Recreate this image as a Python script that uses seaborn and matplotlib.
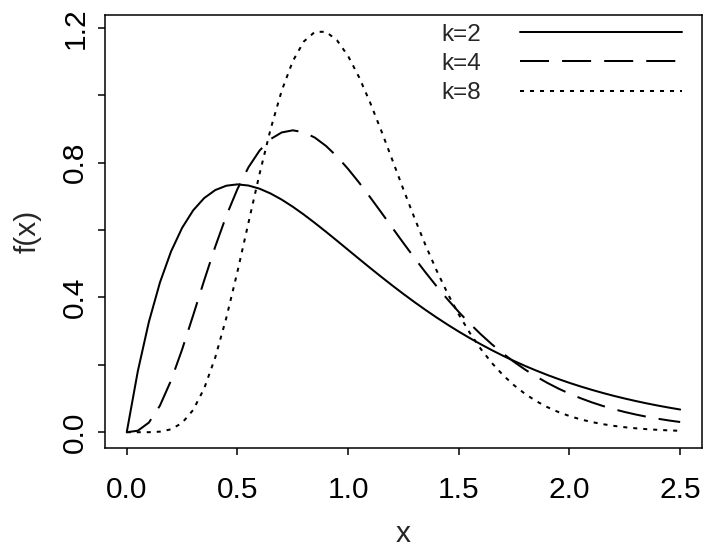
import matplotlib
matplotlib.use("Agg")
import matplotlib.pyplot as plt
import seaborn as sns

# grid of x values and the three density curves
x = [0.00, 0.05, 0.10, 0.15, 0.20, 0.25, 0.30, 0.35, 0.40, 0.45,
     0.50, 0.55, 0.60, 0.65, 0.70, 0.75, 0.80, 0.85, 0.90, 0.95,
     1.00, 1.05, 1.10, 1.15, 1.20, 1.25, 1.30, 1.35, 1.40, 1.45,
     1.50, 1.55, 1.60, 1.65, 1.70, 1.75, 1.80, 1.85, 1.90, 1.95,
     2.00, 2.05, 2.10, 2.15, 2.20, 2.25, 2.30, 2.35, 2.40, 2.45, 2.50]

f_k2 = [0.0, 0.1810, 0.3275, 0.4445, 0.5363, 0.6065, 0.6586, 0.6952, 0.7189, 0.7318,
        0.7358, 0.7323, 0.7229, 0.7086, 0.6905, 0.6694, 0.6461, 0.6211, 0.5951, 0.5684,
        0.5413, 0.5143, 0.4875, 0.4612, 0.4354, 0.4104, 0.3862, 0.3629, 0.3405, 0.3191,
        0.2987, 0.2793, 0.2609, 0.2434, 0.2269, 0.2114, 0.1967, 0.1830, 0.1700, 0.1579,
        0.1465, 0.1359, 0.1260, 0.1167, 0.1080, 0.1000, 0.0925, 0.0855, 0.0790, 0.0730, 0.0674]

f_k4 = [0.0, 0.0044, 0.0286, 0.0790, 0.1534, 0.2453, 0.3470, 0.4511, 0.5513, 0.6427,
        0.7218, 0.7866, 0.8361, 0.8703, 0.8899, 0.8962, 0.8905, 0.8745, 0.8499, 0.8184,
        0.7815, 0.7407, 0.6972, 0.6523, 0.6068, 0.5615, 0.5172, 0.4742, 0.4330, 0.3939,
        0.3570, 0.3224, 0.2904, 0.2607, 0.2335, 0.2085, 0.1858, 0.1651, 0.1465, 0.1296,
        0.1145, 0.1010, 0.0889, 0.0781, 0.0685, 0.0600, 0.0525, 0.0458, 0.0400, 0.0348, 0.0303]

f_k8 = [0.0, 0.0000, 0.0001, 0.0017, 0.0086, 0.0275, 0.0660, 0.1302, 0.2223, 0.3399,
        0.4763, 0.6222, 0.7669, 0.9002, 1.0138, 1.1014, 1.1600, 1.1886, 1.1887, 1.1634,
        1.1167, 1.0533, 0.9778, 0.8947, 0.8079, 0.7206, 0.6357, 0.5549, 0.4798, 0.4112,
        0.3495, 0.2947, 0.2467, 0.2051, 0.1694, 0.1391, 0.1136, 0.0922, 0.0745, 0.0599,
        0.0480, 0.0382, 0.0303, 0.0240, 0.0189, 0.0148, 0.0116, 0.0090, 0.0070, 0.0054, 0.0042]

labels = ["k=2", "k=4", "k=8"]
x_ticks = [0.0, 0.5, 1.0, 1.5, 2.0, 2.5]
y_ticks = [0.0, 0.2, 0.4, 0.6, 0.8, 1.0, 1.2]
y_tick_labels = ["0.0", "", "0.4", "", "0.8", "", "1.2"]

sns.set_style("ticks")
plt.rcParams["font.family"] = ["Liberation Sans", "DejaVu Sans"]
plt.rcParams["lines.scale_dashes"] = False

fig = plt.figure(figsize=(7.14, 5.52), dpi=100)
ax = fig.add_axes([0.1465, 0.1877, 0.8371, 0.786])

lw = 1.45
styles = ["-", (0, (20.9, 9.4)), (0, (2.9, 4.3))]
for ys, lab, ls in zip([f_k2, f_k4, f_k8], labels, styles):
    sns.lineplot(x=x, y=ys, ax=ax, color="black", linewidth=lw,
                 linestyle=ls, label=lab)

ax.set_xlim(-0.1, 2.6)
ax.set_ylim(-0.048, 1.240)
ax.set_xticks(x_ticks)
ax.set_xticklabels([f"{t:.1f}" for t in x_ticks])
ax.set_yticks(y_ticks)
ax.set_yticklabels(y_tick_labels, rotation=90, va="center")

for s in ax.spines.values():
    s.set_visible(True)
    s.set_color("black")
    s.set_linewidth(1.1)
ax.tick_params(axis="both", direction="out", length=5, width=1.1,
               color="black", labelsize=21.5, labelcolor="black")
ax.tick_params(axis="x", pad=15)
ax.tick_params(axis="y", pad=6)

ax.set_xlabel("x", fontsize=21.5, va="center")
ax.set_ylabel("f(x)", fontsize=21.5, va="center")
ax.xaxis.set_label_coords(0.5, -0.197)
ax.yaxis.set_label_coords(-0.128, 0.5)

ax.legend(loc="upper right", bbox_to_anchor=(682 / 714, 1 - 23.5 / 552),
          bbox_transform=fig.transFigure, markerfirst=False, frameon=False,
          fontsize=17.5, handlelength=6.65, handletextpad=1.6,
          borderpad=0, borderaxespad=0, labelspacing=0.3)

fig.savefig("out.png", dpi=100)
